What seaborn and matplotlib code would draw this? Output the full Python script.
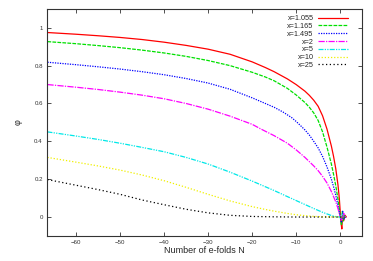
import pandas as pd
import matplotlib
matplotlib.use("Agg")
import matplotlib.pyplot as plt
import seaborn as sns

# Curves phi(N), one per value of x.
labels = ["x=1.055", "x=1.165", "x=1.495", "x=2", "x=5", "x=10", "x=25"]

n_red = [-66.5, -60, -55, -50, -45, -40, -35, -30, -25, -20, -17, -15, -12, -10, -8, -7, -6, -5, -4, -3, -2, -1.5, -1, -0.5, -0.2, 0.1, 0.25, 0.38, 0.55, 0.8, 1.1, 1.4]
phi_red = [0.975, 0.966, 0.958, 0.949, 0.938, 0.924, 0.907, 0.887, 0.86, 0.82, 0.79, 0.768, 0.73, 0.70, 0.665, 0.643, 0.617, 0.585, 0.535, 0.465, 0.375, 0.32, 0.255, 0.17, 0.10, 0.0, -0.04, -0.063, 0.02, -0.02, 0.01, 0.0]

n_green = [-66.5, -60, -55, -50, -45, -40, -35, -30, -25, -20, -17, -15, -12, -10, -8, -7, -6, -5, -4, -3, -2, -1.5, -1, -0.5, -0.2, 0.05, 0.3, 0.5, 0.7, 1.0, 1.3]
phi_green = [0.927, 0.916, 0.906, 0.895, 0.882, 0.867, 0.849, 0.827, 0.80, 0.765, 0.74, 0.72, 0.68, 0.645, 0.605, 0.58, 0.55, 0.51, 0.45, 0.37, 0.28, 0.225, 0.165, 0.095, 0.045, 0.0, -0.045, 0.03, -0.02, 0.01, 0.0]

n_blue = [-66.5, -60, -55, -50, -45, -40, -35, -30, -25, -20, -17, -15, -13, -11, -10, -9, -8, -7, -6, -5, -4, -3, -2, -1.5, -1, -0.5, 0, 0.3, 0.6, 0.9, 1.2]
phi_blue = [0.818, 0.805, 0.794, 0.782, 0.768, 0.752, 0.732, 0.708, 0.675, 0.63, 0.60, 0.58, 0.555, 0.525, 0.505, 0.483, 0.46, 0.433, 0.40, 0.365, 0.32, 0.265, 0.20, 0.16, 0.115, 0.06, 0.0, -0.03, 0.03, -0.01, 0.0]

n_magenta = [-66.5, -60, -55, -50, -45, -40, -35, -30, -25, -20, -18, -15, -12, -10, -8, -6, -5, -4, -3, -2, -1, -0.5, 0, 0.4, 0.8, 1.2]
phi_magenta = [0.70, 0.686, 0.674, 0.66, 0.644, 0.625, 0.60, 0.57, 0.533, 0.49, 0.465, 0.43, 0.39, 0.355, 0.315, 0.27, 0.245, 0.215, 0.18, 0.135, 0.08, 0.045, 0.0, -0.02, 0.02, 0.0]

n_cyan = [-66.5, -60, -55, -50, -45, -40, -35, -30, -25, -20, -17, -15, -12, -10, -8, -6, -4, -2, -1, 0, 0.5, 1.0]
phi_cyan = [0.45, 0.428, 0.41, 0.39, 0.368, 0.345, 0.315, 0.28, 0.237, 0.19, 0.16, 0.14, 0.108, 0.087, 0.066, 0.045, 0.025, 0.008, 0.002, 0.0, 0.015, 0.0]

n_yellow = [-66.5, -60, -55, -50, -45, -40, -35, -30, -25, -20, -17, -15, -12, -10, -7, -4, 0, 1.0]
phi_yellow = [0.315, 0.29, 0.27, 0.248, 0.222, 0.192, 0.157, 0.12, 0.085, 0.055, 0.04, 0.031, 0.019, 0.012, 0.005, 0.001, 0.0, 0.0]

n_black = [-66.5, -60, -55, -50, -45, -40, -35, -30, -25, -20, -15, -10, 0, 1.0]
phi_black = [0.198, 0.168, 0.145, 0.12, 0.09, 0.065, 0.041, 0.022, 0.009, 0.003, 0.001, 0.0, 0.0, 0.0]

x_ticks = [-60, -50, -40, -30, -20, -10, 0]
y_ticks = [0, 0.2, 0.4, 0.6, 0.8, 1]
y_tick_labels = ["0", "0.2", "0.4", "0.6", "0.8", "1"]

curves = [
    (n_red, phi_red, "#ff0000", ""),
    (n_green, phi_green, "#00e000", (3, 1)),
    (n_blue, phi_blue, "#0000ff", (1, 1)),
    (n_magenta, phi_magenta, "#ff00ff", (5, 1, 1, 1)),
    (n_cyan, phi_cyan, "#00e8e8", (4, 1, 1, 1, 1, 1)),
    (n_yellow, phi_yellow, "#f0f000", (1, 1.5)),
    (n_black, phi_black, "#000000", (1, 2)),
]

sns.set_theme(style="ticks")
plt.rcParams["font.family"] = ["Liberation Sans", "DejaVu Sans"]

fig = plt.figure(figsize=(3.73, 2.61), dpi=100)
ax = fig.add_axes([0.126, 0.096, 0.845, 0.870])

for (n, phi, color, dash), label in zip(curves, labels):
    df = pd.DataFrame({"N": n, "phi": phi})
    sns.lineplot(data=df, x="N", y="phi", color=color, label=label,
                 sort=False, estimator=None, linewidth=0.9, ax=ax)
    if dash:
        ax.lines[-1].set_dashes(dash)

ax.set_xlim(-66.6, 5)
ax.set_ylim(-0.1, 1.1)
ax.set_xticks(x_ticks)
ax.set_yticks(y_ticks)
ax.set_yticklabels(y_tick_labels)
ax.tick_params(direction="in", length=3, width=0.6, labelsize=4.4,
               top=True, right=True, pad=3, colors="#333333")
for spine in ax.spines.values():
    spine.set_linewidth(0.8)
    spine.set_color("#333333")

ax.set_xlabel("Number of e-folds N", fontsize=6.5, labelpad=1)
ax.set_ylabel("\u03c6", fontsize=6.5, labelpad=8)

handles, labs = ax.get_legend_handles_labels()
ax.legend(handles, labs, loc="upper right", bbox_to_anchor=(0.965, 0.985),
          frameon=False, markerfirst=False, fontsize=5.2, handlelength=4.2,
          handletextpad=0.6, labelspacing=0.1, borderaxespad=0)

fig.savefig("out.png", dpi=100)
